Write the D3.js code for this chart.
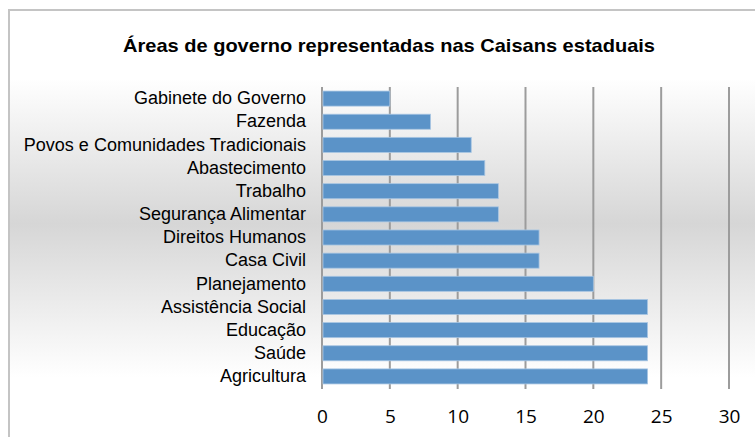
<!DOCTYPE html>
<html>
<head>
<meta charset="utf-8">
<script src="https://cdn.jsdelivr.net/npm/d3@7"></script>
<style>
  body { margin: 0; background: #fff; }
  svg { display: block; }
</style>
</head>
<body>
<svg id="chart"></svg>
<script>
const categories = [
  "Gabinete do Governo", "Fazenda", "Povos e Comunidades Tradicionais",
  "Abastecimento", "Trabalho", "Segurança Alimentar", "Direitos Humanos",
  "Casa Civil", "Planejamento", "Assistência Social", "Educação", "Saúde",
  "Agricultura"
]
const values = [5, 8, 11, 12, 13, 13, 16, 16, 20, 24, 24, 24, 24]
const xTicks = [0, 5, 10, 15, 20, 25, 30]
const title = "Áreas de governo representadas nas Caisans estaduais"

const width = 755, height = 437
const sans = "'Liberation Sans', Arial, sans-serif"

const svg = d3.select("#chart")
  .attr("width", width)
  .attr("height", height)

// chart area gradient (white -> gray -> white)
const defs = svg.append("defs")
const grad = defs.append("linearGradient")
  .attr("id", "bg")
  .attr("gradientUnits", "userSpaceOnUse")
  .attr("x1", 0).attr("x2", 0)
  .attr("y1", 10).attr("y2", 437)
grad.append("stop").attr("offset", 0.16).attr("stop-color", "#ffffff")
grad.append("stop").attr("offset", 0.5).attr("stop-color", "#d6d6d6")
grad.append("stop").attr("offset", 0.86).attr("stop-color", "#ffffff")

svg.append("rect")
  .attr("x", 9).attr("y", 10)
  .attr("width", 780).attr("height", 460)
  .attr("fill", "url(#bg)")
  .attr("stroke", "#c4c4c4")
  .attr("stroke-width", 2)

svg.append("text")
  .attr("x", 389).attr("y", 52)
  .attr("text-anchor", "middle")
  .attr("textLength", 532)
  .attr("lengthAdjust", "spacingAndGlyphs")
  .style("font-family", sans)
  .style("font-weight", "bold")
  .style("font-size", "18.5px")
  .text(title)

const x = d3.scaleLinear().domain([0, 30]).range([322, 729])
const y = d3.scaleBand().domain(categories).range([87, 388]).paddingInner(0.35).paddingOuter(0.175)

// gridlines
svg.append("g")
  .selectAll("line")
  .data(xTicks)
  .join("line")
  .attr("x1", d => x(d)).attr("x2", d => x(d))
  .attr("y1", 87).attr("y2", 389)
  .attr("stroke", "#9c9c9c")
  .attr("stroke-width", 2)

// bars
svg.append("g")
  .selectAll("rect")
  .data(values)
  .join("rect")
  .attr("x", x(0) + 1)
  .attr("y", (d, i) => y(categories[i]))
  .attr("width", d => x(d) - x(0) - 1)
  .attr("height", y.bandwidth())
  .attr("fill", "#5b93c8")
  .attr("stroke", "#a9c6e3")
  .attr("stroke-width", 0.8)

// category axis
const yAxis = svg.append("g")
  .attr("transform", `translate(${x(0) - 1},0)`)
  .call(d3.axisLeft(y).tickSize(0).tickPadding(15))
yAxis.select(".domain").remove()
yAxis.selectAll("text")
  .style("font-family", sans)
  .style("font-size", "18px")
  .attr("fill", "#000")

// value axis
const xAxis = svg.append("g")
  .attr("transform", "translate(0,398)")
  .call(d3.axisBottom(x).tickValues(xTicks).tickSize(0).tickPadding(12))
xAxis.select(".domain").remove()
xAxis.selectAll("text")
  .style("font-family", "'Open Sans', sans-serif")
  .style("font-size", "19px")
  .attr("fill", "#000")
</script>
</body>
</html>
